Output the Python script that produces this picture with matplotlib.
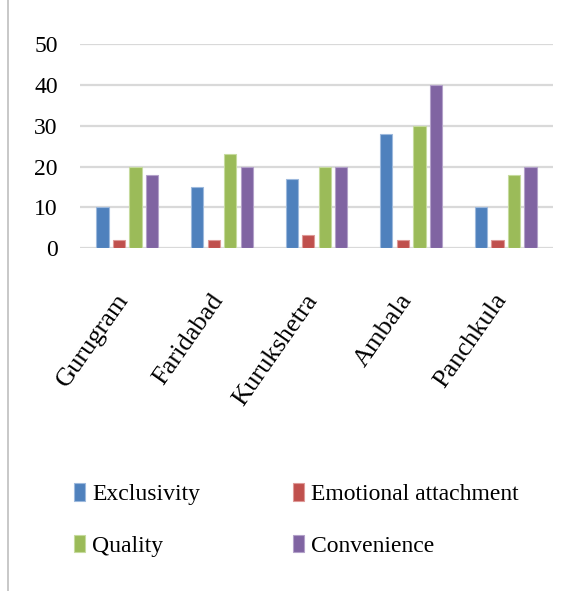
import matplotlib.pyplot as plt
import matplotlib.transforms as mtransforms
from matplotlib.patches import Patch
import numpy as np

plt.rcParams['font.family'] = ['Liberation Serif', 'DejaVu Serif']

# data
cities = ['Gurugram', 'Faridabad', 'Kurukshetra', 'Ambala', 'Panchkula']
exclusivity = [10, 15, 17, 28, 10]
emotional = [2, 2, 3.3, 2, 2]
quality = [20, 23, 20, 30, 18]
convenience = [18, 20, 20, 40, 20]
series_names = ['Exclusivity', 'Emotional attachment', 'Quality', 'Convenience']
colors = ['#4F81BD', '#C0504D', '#9BBB59', '#8064A2']
edges = ['#9DB9DD', '#DE9A98', '#C6DB9E', '#B3A1C9']

fig = plt.figure(figsize=(5.76, 5.91), dpi=100)
ax = fig.add_axes([0.139, 0.580, 0.821, 0.3455])

x = np.arange(len(cities))
w = 0.13
step = 0.175
all_series = [exclusivity, emotional, quality, convenience]
for i, vals in enumerate(all_series):
    ax.bar(x + (i - 1.5) * step, vals, w, color=colors[i],
           edgecolor=edges[i], linewidth=0.8, zorder=3)

ax.set_xlim(-0.5, len(cities) - 0.5)
ax.set_ylim(0, 50)
ax.set_yticks(range(0, 51, 10))
ax.yaxis.grid(True, color='#D9D9D9', linewidth=1.6, zorder=0)
ax.set_axisbelow(True)
for s in ax.spines.values():
    s.set_visible(False)

ax.tick_params(axis='y', length=0, pad=16, labelsize=17)
ax.tick_params(axis='x', length=0, pad=30, labelsize=19)
ax.set_xticks(x)
ax.set_xticklabels(cities, rotation=55, ha='right')
off = mtransforms.ScaledTranslation(6 / 100, 0, fig.dpi_scale_trans)
for lab in ax.get_xticklabels():
    lab.set_transform(lab.get_transform() + off)

# legend filled column by column, so order the entries to read row by row
order = [0, 2, 1, 3]
handles = [Patch(facecolor=colors[i], edgecolor=edges[i], linewidth=0.8) for i in order]
labels = [series_names[i] for i in order]
fig.legend(handles, labels, ncol=2, loc='upper left',
           bbox_to_anchor=(0.092, 0.218), frameon=False, fontsize=17,
           handlelength=0.45, handleheight=0.75, handletextpad=0.3,
           columnspacing=3.95, labelspacing=1.25)

# left border of the chart frame
fig.add_artist(plt.Line2D([8 / 576, 8 / 576], [0, 1], color='#BFBFBF',
                          linewidth=1.2, transform=fig.transFigure))

fig.savefig('out.png', dpi=100)
